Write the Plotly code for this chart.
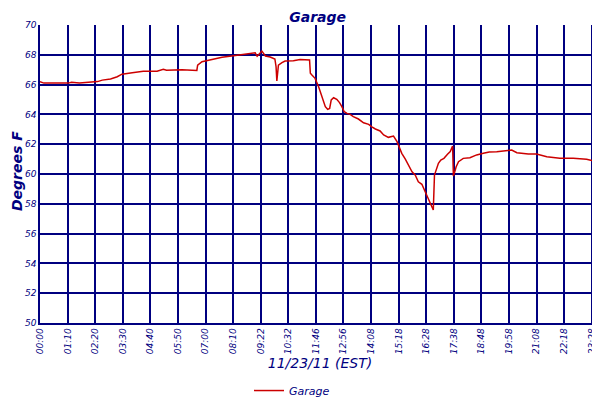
import plotly.graph_objects as go

# minutes since midnight, 11/23/11
minutes = [0, 10, 72, 80, 100, 146, 158, 179, 196, 208, 234, 262, 297, 313, 321, 360,
           398, 400, 411, 440, 462, 491, 525, 546, 551, 563, 572, 584, 596, 599, 601,
           603, 605, 614, 622, 643, 660, 684, 686, 690, 698, 707, 711, 715, 719, 724,
           730, 735, 739, 745, 753, 760, 766, 772, 779, 787, 795, 808, 821, 834, 842,
           851, 863, 872, 884, 897, 906, 911, 918, 927, 935, 944, 952, 960, 969, 975,
           982, 988, 994, 998, 1001, 1005, 1011, 1017, 1025, 1034, 1041, 1047, 1049,
           1053, 1056, 1062, 1074, 1091, 1108, 1125, 1140, 1159, 1184, 1197, 1210,
           1239, 1260, 1286, 1319, 1353, 1387, 1400, 1421]
garage = [66.2, 66.1, 66.1, 66.15, 66.1, 66.2, 66.3, 66.38, 66.53, 66.7, 66.8, 66.9, 66.9,
          67.03, 66.97, 67.0, 66.95, 67.3, 67.54, 67.72, 67.83, 67.94, 68.05, 68.14, 67.9,
          68.25, 67.92, 67.85, 67.72, 67.2, 66.24, 67.0, 67.3, 67.47, 67.58, 67.6, 67.68,
          67.65, 66.76, 66.64, 66.42, 65.86, 65.52, 65.19, 64.85, 64.52, 64.34, 64.4,
          64.97, 65.12, 65.01, 64.79, 64.52, 64.18, 64.07, 64.0, 63.85, 63.69, 63.44,
          63.33, 63.17, 63.02, 62.89, 62.62, 62.46, 62.55, 62.17, 61.79, 61.39, 61.0,
          60.6, 60.15, 59.93, 59.48, 59.31, 58.93, 58.59, 58.14, 57.85, 57.58, 59.93,
          60.27, 60.72, 60.94, 61.05, 61.32, 61.5, 61.88, 59.87, 60.2, 60.49, 60.83,
          61.05, 61.09, 61.28, 61.39, 61.48, 61.5, 61.57, 61.61, 61.43, 61.34, 61.34,
          61.16, 61.05, 61.05, 60.99, 60.9, 60.9]

tick_pos = [0, 70, 140, 210, 280, 350, 420, 490, 560, 630, 700, 770, 840, 910, 980,
            1050, 1120, 1190, 1260, 1330, 1400, 1417]
tick_text = ['00:00', '01:10', '02:20', '03:30', '04:40', '05:50', '07:00', '08:10',
             '09:22', '10:32', '11:46', '12:56', '14:08', '15:18', '16:28', '17:38',
             '18:48', '19:58', '21:08', '22:18', '23:28', '23:48']

navy = '#000080'
font = 'DejaVu Sans'

fig = go.Figure()
fig.add_trace(go.Scatter(x=minutes, y=garage, mode='lines', name='<i>Garage</i>',
                         line=dict(color='#cc0000', width=1.5)))

# page body has an 8px margin, so the figure is 8px smaller each way
fig.update_layout(
    width=592, height=392,
    margin=dict(l=32, r=0, t=17, b=77, autoexpand=False),
    paper_bgcolor='white', plot_bgcolor='white',
    title=dict(text='<b><i>Garage</i></b>', x=0.523, xanchor='center', y=0.99,
               yanchor='top', pad=dict(t=0, b=0), font=dict(family=font, size=14, color=navy)),
    font=dict(family=font, color=navy),
    showlegend=True,
    legend=dict(orientation='h', x=0.45, xanchor='center', y=-0.178, yanchor='top',
                font=dict(size=11, color=navy), itemwidth=30),
    xaxis=dict(range=[0, 1421], tickmode='array', tickvals=tick_pos, ticktext=tick_text,
               tickangle=-90, tickfont=dict(size=9, color=navy, style='italic'),
               ticklabeloverflow='allow', showgrid=True, automargin=False,
               gridcolor=navy, gridwidth=1.5, showline=True, linecolor=navy, linewidth=1.5,
               zeroline=False, ticks='',
               title=dict(text='<i>11/23/11 (EST)</i>', font=dict(size=14, color=navy),
                          standoff=5)),
    yaxis=dict(range=[50, 70], dtick=2, tickfont=dict(size=9, color=navy, style='italic'),
               showgrid=True, automargin=False,
               gridcolor=navy, gridwidth=1.5, showline=True, linecolor=navy, linewidth=1.5,
               zeroline=False, ticks=''),
    annotations=[dict(text='<b><i>Degrees F</i></b>', xref='paper', yref='paper',
                      x=0, y=0.51, xshift=-23, xanchor='center', yanchor='middle',
                      textangle=-90, showarrow=False, font=dict(size=14, color=navy))],
)

fig.write_html('out.html')
